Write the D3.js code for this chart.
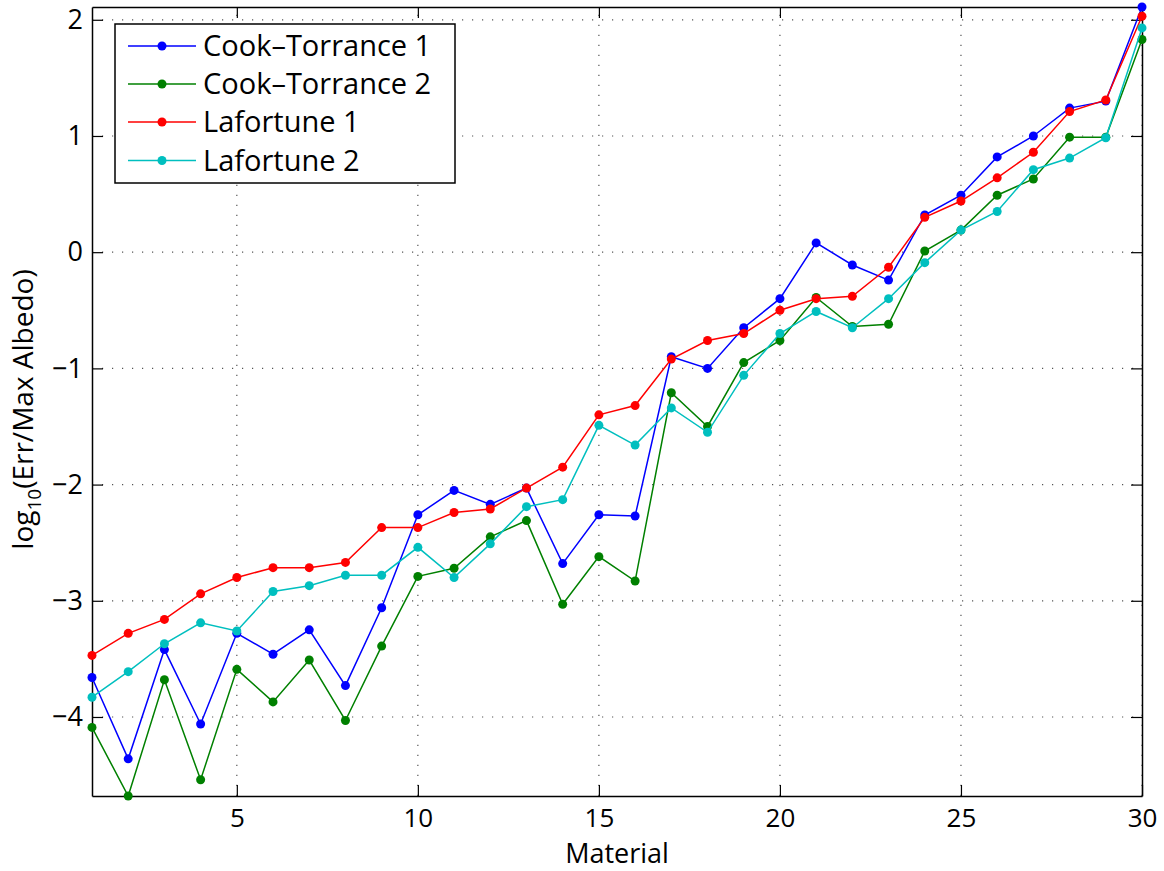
<!DOCTYPE html>
<html>
<head>
<meta charset="utf-8">
<script src="https://cdn.jsdelivr.net/npm/d3@7"></script>
<style>
  body { margin: 0; background: #fff; }
  svg { font-family: "Open Sans", "Noto Sans", sans-serif; }
</style>
</head>
<body>
<div id="chart"></div>
<script>
// material index 1..30
const materials = d3.range(1, 31);

const cookTorrance1 = [-3.66, -4.36, -3.42, -4.06, -3.28, -3.46, -3.25, -3.73, -3.06, -2.26,
  -2.05, -2.17, -2.03, -2.68, -2.26, -2.27, -0.90, -1.00, -0.65, -0.40,
  0.08, -0.11, -0.24, 0.32, 0.49, 0.82, 1.00, 1.24, 1.30, 2.11];
const cookTorrance2 = [-4.09, -4.68, -3.68, -4.54, -3.59, -3.87, -3.51, -4.03, -3.39, -2.79,
  -2.72, -2.45, -2.31, -3.03, -2.62, -2.83, -1.21, -1.50, -0.95, -0.76,
  -0.39, -0.64, -0.62, 0.01, 0.19, 0.49, 0.63, 0.99, 0.99, 1.83];
const lafortune1 = [-3.47, -3.28, -3.16, -2.94, -2.80, -2.715, -2.715, -2.67, -2.37, -2.37,
  -2.24, -2.21, -2.03, -1.85, -1.40, -1.32, -0.92, -0.76, -0.70, -0.50,
  -0.40, -0.38, -0.13, 0.30, 0.44, 0.64, 0.86, 1.21, 1.31, 2.03];
const lafortune2 = [-3.83, -3.61, -3.37, -3.19, -3.26, -2.92, -2.87, -2.78, -2.78, -2.54,
  -2.80, -2.51, -2.19, -2.13, -1.49, -1.66, -1.34, -1.55, -1.06, -0.70,
  -0.51, -0.65, -0.40, -0.09, 0.19, 0.35, 0.71, 0.81, 0.985, 1.93];

const seriesNames = ['Cook\u2013Torrance 1', 'Cook\u2013Torrance 2', 'Lafortune 1', 'Lafortune 2'];
const seriesColors = ['#0000ff', '#008000', '#ff0000', '#00bfbf'];
const seriesValues = [cookTorrance1, cookTorrance2, lafortune1, lafortune2];

const xTicks = [5, 10, 15, 20, 25, 30];
const yTicks = [-4, -3, -2, -1, 0, 1, 2];

const width = 1164, height = 871;
const margin = { top: 7, right: 22, bottom: 75, left: 92 };

const svg = d3.select('#chart').append('svg')
  .attr('width', width).attr('height', height);

const x = d3.scaleLinear().domain([1, 30]).range([margin.left, width - margin.right]);
const y = d3.scaleLinear().domain([-4.68, 2.11]).range([height - margin.bottom, margin.top]);

const x0 = x.range()[0], x1 = x.range()[1];
const y0 = y.range()[0], y1 = y.range()[1];

// grid (dotted)
const grid = svg.append('g').attr('class', 'grid')
  .attr('stroke', '#555').attr('stroke-width', 1.2).attr('stroke-dasharray', '1.2,8.8');
xTicks.forEach(t => {
  grid.append('line').attr('x1', x(t)).attr('x2', x(t)).attr('y1', y0).attr('y2', y1);
});
yTicks.forEach(t => {
  grid.append('line').attr('x1', x0).attr('x2', x1).attr('y1', y(t)).attr('y2', y(t));
});

// axes with inward ticks, box on
const tickLen = 11;
const tickFs = 26;
const axB = svg.append('g').attr('transform', `translate(0,${y0})`)
  .call(d3.axisBottom(x).tickValues(xTicks).tickSizeInner(-tickLen).tickSizeOuter(0).tickPadding(13));
const axT = svg.append('g').attr('transform', `translate(0,${y1})`)
  .call(d3.axisTop(x).tickValues(xTicks).tickSizeInner(-tickLen).tickSizeOuter(0).tickFormat(''));
const axL = svg.append('g').attr('transform', `translate(${x0},0)`)
  .call(d3.axisLeft(y).tickValues(yTicks).tickSizeInner(-tickLen).tickSizeOuter(0).tickPadding(9)
    .tickFormat(d => d < 0 ? '\u2212' + Math.abs(d) : d));
const axR = svg.append('g').attr('transform', `translate(${x1},0)`)
  .call(d3.axisRight(y).tickValues(yTicks).tickSizeInner(-tickLen).tickSizeOuter(0).tickFormat(''));

[axB, axT, axL, axR].forEach(a => {
  a.select('.domain').attr('stroke', '#000').attr('stroke-width', 1.5);
  a.selectAll('.tick line').attr('stroke', '#000').attr('stroke-width', 1.2);
  a.selectAll('.tick text').attr('fill', '#000').style('font-size', tickFs + 'px')
    .style('font-family', '"Open Sans", "Noto Sans", sans-serif');
});
axL.selectAll('.tick text').style('font-size', '27px');

// lines + markers
const line = d3.line().x((d, i) => x(materials[i])).y(d => y(d));
seriesValues.forEach((vals, k) => {
  const g = svg.append('g');
  g.append('path').datum(vals)
    .attr('fill', 'none').attr('stroke', seriesColors[k]).attr('stroke-width', 1.5)
    .attr('d', line);
  g.selectAll('circle').data(vals).enter().append('circle')
    .attr('cx', (d, i) => x(materials[i]))
    .attr('cy', d => y(d))
    .attr('r', 4.5)
    .attr('fill', seriesColors[k]);
});

// axis labels
svg.append('text')
  .attr('x', (x0 + x1) / 2).attr('y', 863)
  .attr('text-anchor', 'middle')
  .style('font-size', '27px')
  .text('Material');

const yl = svg.append('text')
  .attr('transform', `translate(33,${(y0 + y1) / 2 + 8}) rotate(-90)`)
  .attr('text-anchor', 'middle')
  .style('font-size', '28px');
yl.append('tspan').text('log');
yl.append('tspan').attr('dy', 8).style('font-size', '19px').text('10');
yl.append('tspan').attr('dy', -8).text('(Err/Max Albedo)');

// legend
const legend = svg.append('g').attr('transform', 'translate(115,24)');
legend.append('rect')
  .attr('width', 340).attr('height', 159)
  .attr('fill', '#fff').attr('stroke', '#000').attr('stroke-width', 1.5);
const rowY = [22, 60, 98, 136.5];
seriesNames.forEach((name, k) => {
  const r = legend.append('g').attr('transform', `translate(0,${rowY[k]})`);
  r.append('line').attr('x1', 13).attr('x2', 81).attr('stroke', seriesColors[k]).attr('stroke-width', 1.5);
  r.append('circle').attr('cx', 47).attr('r', 4.5).attr('fill', seriesColors[k]);
  r.append('text').attr('x', 88).attr('dy', '0.36em')
    .style('font-size', '29px').text(name);
});
</script>
</body>
</html>
